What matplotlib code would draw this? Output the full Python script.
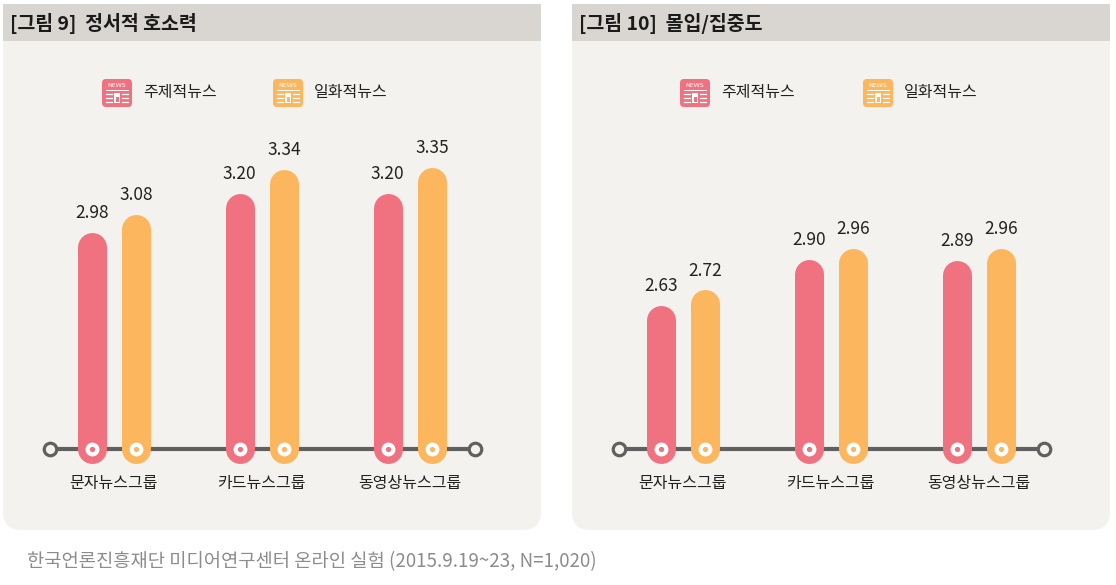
import numpy as np
import matplotlib.pyplot as plt
from matplotlib.patches import FancyBboxPatch, Rectangle

plt.rcParams['font.family'] = ['Noto Sans CJK KR', 'DejaVu Sans']

# - - - data
groups = ['문자뉴스그룹', '카드뉴스그룹', '동영상뉴스그룹']
series = ['주제적뉴스', '일화적뉴스']
fig9_topic = [2.98, 3.20, 3.20]
fig9_anec = [3.08, 3.34, 3.35]
fig10_topic = [2.63, 2.90, 2.89]
fig10_anec = [2.72, 2.96, 2.96]
titles = ['[그림 9]  정서적 호소력', '[그림 10]  몰입/집중도']
source = '한국언론진흥재단 미디어연구센터 온라인 실험 (2015.9.19~23, N=1,020)'

# - - - style
PINK = '#f0717f'
ORANGE = '#fbb65e'
PANEL = '#f3f2ee'
HEAD = '#d9d6d1'
LINE = '#606060'
colors = [PINK, ORANGE]

W, H = 1116, 585
fig = plt.figure(figsize=(W / 100, H / 100), dpi=100)

# background layer in pixel coordinates
bg = fig.add_axes([0, 0, 1, 1])
bg.set_xlim(0, W)
bg.set_ylim(H, 0)
bg.axis('off')

panel_left = [3, 572]
panel_w = 538
panel_top, panel_bot = 4, 530
base_val = [1.74, 1.79]       # value sitting on the baseline
ppu = [175, 171]              # pixels per unit
baseline_px = 449
bar_w = 29                    # px
offs = 0.149                  # bar offset from group centre (units)


def news_icon(x, y, color):
    # small "NEWS" newspaper icon, x,y = top-left in px
    bg.add_patch(FancyBboxPatch((x + 2, y + 2), 26, 24, boxstyle='round,pad=2,rounding_size=4',
                                fc=color, ec='none'))
    bg.text(x + 15, y + 6.5, 'NEWS', color='white', fontsize=4.5, ha='center', va='center',
            family='DejaVu Sans')
    bg.plot([x + 4, x + 26], [y + 11, y + 11], color='white', lw=0.7)
    for dy in (15, 19, 23):
        bg.plot([x + 4, x + 10], [y + dy, y + dy], color='white', lw=0.9)
        bg.plot([x + 20, x + 26], [y + dy, y + dy], color='white', lw=0.9)
    bg.add_patch(Rectangle((x + 12, y + 14), 6, 10, fc='white', ec='none'))
    bg.add_patch(Rectangle((x + 13.5, y + 18), 3, 5, fc=color, ec='none'))


data = [(fig9_topic, fig9_anec), (fig10_topic, fig10_anec)]

for p in range(2):
    L = panel_left[p]
    # panel body (rounded bottom) and square header
    bg.add_patch(FancyBboxPatch((L + 18, panel_top + 18), panel_w - 36, panel_bot - panel_top - 36,
                                boxstyle='round,pad=18', fc=PANEL, ec='none'))
    bg.add_patch(Rectangle((L, panel_top), panel_w, 37, fc=HEAD, ec='none'))
    bg.text(L + 7, panel_top + 19, titles[p], fontsize=14, fontweight='bold', color='#1a1a1a',
            va='center', ha='left')

    # legend
    leg_x = [L + 99, L + 270] if p == 0 else [L + 108, L + 291]
    for s in range(2):
        news_icon(leg_x[s], 79, colors[s])
        bg.text(leg_x[s] + 41, 93, series[s], fontsize=11.5, color='#222222', va='center', ha='left')

    # bar axes
    ax = fig.add_axes([L / W, (H - panel_bot) / H, panel_w / W, (panel_bot - panel_top) / H])
    ax.patch.set_alpha(0)
    ax.axis('off')
    ax.set_xlim(-110.75 / 148, (panel_w - 110.75) / 148)
    low = base_val[p] - (panel_bot - baseline_px) / ppu[p]
    ax.set_ylim(low, low + (panel_bot - panel_top) / ppu[p])
    r = bar_w / 2 / ppu[p]
    b0 = base_val[p]

    x = np.arange(len(groups))
    # baseline with end circles
    ax.plot([x[0] - 0.43, x[-1] + 0.44], [b0, b0], color=LINE, lw=3, zorder=1, clip_on=False)
    ax.plot([x[0] - 0.43, x[-1] + 0.44], [b0, b0], ls='none', marker='o', ms=9,
            mfc=PANEL, mec=LINE, mew=2.3, zorder=2, clip_on=False)

    for s in range(2):
        vals = data[p][s]
        xs = x + (offs if s else -offs)
        for xi, v in zip(xs, vals):
            ax.plot([xi, xi], [b0, v - r], color=colors[s], lw=bar_w * 0.72,
                    solid_capstyle='round', zorder=3, clip_on=False)
            ax.annotate(f'{v:.2f}', (xi, v), xytext=(0, 14), textcoords='offset points',
                        ha='center', va='center', fontsize=12.5, color='#222222')
        ax.plot(xs, [b0] * len(xs), ls='none', marker='o', ms=10, mfc='white', mec='none',
                zorder=4, clip_on=False)
        ax.plot(xs, [b0] * len(xs), ls='none', marker='o', ms=3.8, mfc=colors[s], mec='none',
                zorder=5, clip_on=False)

    for xi, g in zip(x, groups):
        ax.annotate(g, (xi, b0), xytext=(0, -25), textcoords='offset points',
                    ha='center', va='center', fontsize=11.5, color='#222222')

bg.text(27, 562, source, fontsize=13.5, color='#8c8c8c', va='center', ha='left')

plt.savefig('out.png', dpi=100)
